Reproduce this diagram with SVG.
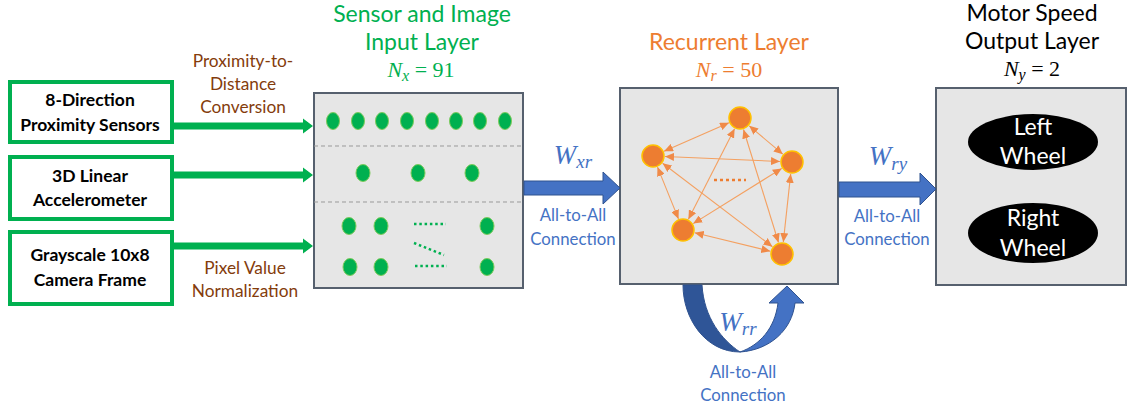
<svg xmlns="http://www.w3.org/2000/svg" width="1127" height="409" viewBox="0 0 1127 409">
<defs>
<style>
.src{fill:#fff;stroke:#00B050;stroke-width:4}
.srct{font-family:Lato,"Liberation Sans",sans-serif;font-weight:bold;font-size:17.5px;fill:#000;text-anchor:middle}
.brown{font-family:Lato,"Liberation Sans",sans-serif;font-size:17.3px;fill:#843C0C;text-anchor:middle}
.blue{font-family:Lato,"Liberation Sans",sans-serif;font-size:16.8px;fill:#4472C4;text-anchor:middle}
.title{font-family:Lato,"Liberation Sans",sans-serif;font-size:23px;text-anchor:middle}
.math{font-family:"Liberation Serif",serif;font-size:22px;text-anchor:middle}
.layer{fill:#E6E6E6;stroke:#56606E;stroke-width:2}
.garr{fill:#00B050}
.barr{fill:#4472C4;stroke:#2F528F;stroke-width:1}
.gdot{fill:#00B050;stroke:#7CCB5B;stroke-width:1}
.rn{fill:#ED7D31;stroke:#FFC000;stroke-width:1.5}
.edge{stroke:#F4A060;stroke-width:1.1;fill:none;marker-start:url(#ah);marker-end:url(#ah)}
.wheel{fill:#000}
.wt{font-family:Lato,"Liberation Sans",sans-serif;font-size:23px;fill:#fff;text-anchor:middle}
.wl{font-family:"Liberation Serif",serif;font-style:italic;fill:#4472C4;text-anchor:middle}
</style>
<marker id="ah" markerUnits="userSpaceOnUse" markerWidth="9" markerHeight="8" refX="9" refY="4" orient="auto-start-reverse">
<path d="M0,0 L9,4 L0,8 z" fill="#F08A48"/>
</marker>
</defs>
<rect width="1127" height="409" fill="#fff"/>

<g id="src-proximity">
<rect class="src" x="10" y="82" width="162" height="60"/>
<text class="srct" x="90" y="106">8-Direction</text>
<text class="srct" x="90" y="131">Proximity Sensors</text>
</g>
<g id="src-accel">
<rect class="src" x="10" y="157" width="162" height="62"/>
<text class="srct" x="90" y="182">3D Linear</text>
<text class="srct" x="90" y="206">Accelerometer</text>
</g>
<g id="src-camera">
<rect class="src" x="10" y="232" width="162" height="72"/>
<text class="srct" x="90" y="261">Grayscale 10x8</text>
<text class="srct" x="90" y="286">Camera Frame</text>
</g>

<g id="input-layer">
<text class="title" fill="#00B050" x="422" y="22">Sensor and Image</text>
<text class="title" fill="#00B050" x="422" y="50">Input Layer</text>
<text class="math" fill="#00B050" x="421" y="77"><tspan font-style="italic">N</tspan><tspan font-style="italic" font-size="16" dy="4">x</tspan><tspan dy="-4">  =  91</tspan></text>
<rect class="layer" x="314" y="93" width="209" height="195"/>
<line x1="314" y1="146" x2="522" y2="146" stroke="#999" stroke-width="1" stroke-dasharray="4,3"/>
<line x1="314" y1="202" x2="524" y2="202" stroke="#999" stroke-width="1" stroke-dasharray="4,3"/>
<ellipse class="gdot" cx="333" cy="121" rx="6.5" ry="8.5"/>
<ellipse class="gdot" cx="358" cy="121" rx="6.5" ry="8.5"/>
<ellipse class="gdot" cx="382" cy="121" rx="6.5" ry="8.5"/>
<ellipse class="gdot" cx="407" cy="121" rx="6.5" ry="8.5"/>
<ellipse class="gdot" cx="432" cy="121" rx="6.5" ry="8.5"/>
<ellipse class="gdot" cx="456" cy="121" rx="6.5" ry="8.5"/>
<ellipse class="gdot" cx="480" cy="121" rx="6.5" ry="8.5"/>
<ellipse class="gdot" cx="505" cy="121" rx="6.5" ry="8.5"/>
<ellipse class="gdot" cx="363" cy="173" rx="7" ry="8.5"/>
<ellipse class="gdot" cx="418" cy="173" rx="7" ry="8.5"/>
<ellipse class="gdot" cx="472" cy="173" rx="7" ry="8.5"/>
<ellipse class="gdot" cx="349" cy="226" rx="7" ry="8.5"/>
<ellipse class="gdot" cx="381" cy="226" rx="7" ry="8.5"/>
<ellipse class="gdot" cx="487" cy="226" rx="7" ry="8.5"/>
<ellipse class="gdot" cx="350" cy="267" rx="7" ry="8.5"/>
<ellipse class="gdot" cx="381" cy="267" rx="7" ry="8.5"/>
<ellipse class="gdot" cx="487" cy="267" rx="7" ry="8.5"/>
<g stroke="#00B050" stroke-width="2.5" stroke-dasharray="2.5,2.8" fill="none">
<line x1="414" y1="224" x2="446" y2="224"/>
<line x1="414" y1="243" x2="444" y2="255"/>
<line x1="415" y1="266" x2="447" y2="266"/>
</g>
</g>

<g id="recurrent-layer">
<text class="title" fill="#ED7D31" x="729" y="50">Recurrent Layer</text>
<text class="math" fill="#ED7D31" x="729" y="77"><tspan font-style="italic">N</tspan><tspan font-style="italic" font-size="16" dy="4">r</tspan><tspan dy="-4">  =  50</tspan></text>
<rect class="layer" x="620" y="88" width="218" height="196"/>
<line class="edge" x1="729.0" y1="122.8" x2="664.0" y2="151.2"/>
<line class="edge" x1="749.2" y1="125.8" x2="782.8" y2="154.2"/>
<line class="edge" x1="734.6" y1="128.7" x2="688.4" y2="219.3"/>
<line class="edge" x1="743.5" y1="129.5" x2="778.5" y2="242.5"/>
<line class="edge" x1="665.0" y1="156.5" x2="780.0" y2="161.5"/>
<line class="edge" x1="657.5" y1="167.1" x2="678.5" y2="218.9"/>
<line class="edge" x1="662.6" y1="163.3" x2="772.4" y2="246.7"/>
<line class="edge" x1="781.8" y1="168.4" x2="693.2" y2="223.6"/>
<line class="edge" x1="790.7" y1="173.9" x2="783.3" y2="242.1"/>
<line class="edge" x1="694.7" y1="232.8" x2="770.3" y2="251.2"/>
<circle class="rn" cx="740" cy="118" r="11"/>
<circle class="rn" cx="653" cy="156" r="11"/>
<circle class="rn" cx="792" cy="162" r="11"/>
<circle class="rn" cx="683" cy="230" r="11"/>
<circle class="rn" cx="782" cy="254" r="11"/>
<line x1="714" y1="180" x2="746" y2="180" stroke="#ED7D31" stroke-width="2.5" stroke-dasharray="3,3"/>
</g>

<g id="output-layer">
<text class="title" fill="#000" x="1032" y="21">Motor Speed</text>
<text class="title" fill="#000" x="1032" y="49">Output Layer</text>
<text class="math" fill="#000" x="1032" y="76"><tspan font-style="italic">N</tspan><tspan font-style="italic" font-size="16" dy="4">y</tspan><tspan dy="-4">  =  2</tspan></text>
<rect class="layer" x="936" y="88" width="190" height="197"/>
<ellipse class="wheel" cx="1033" cy="142" rx="65" ry="28"/>
<text class="wt" x="1033" y="135">Left</text>
<text class="wt" x="1033" y="164">Wheel</text>
<ellipse class="wheel" cx="1033" cy="233" rx="65" ry="30"/>
<text class="wt" x="1033" y="226">Right</text>
<text class="wt" x="1033" y="256">Wheel</text>
</g>

<g id="connectors">
<path class="garr" d="M172,122.5 H303 V118.5 L313,126 L303,133.5 V129.5 H172 Z"/>
<path class="garr" d="M172,171.5 H303 V167.5 L313,175 L303,182.5 V178.5 H172 Z"/>
<path class="garr" d="M172,242.5 H303 V238.5 L313,246 L303,253.5 V249.5 H172 Z"/>
<text class="brown" x="243" y="67">Proximity-to-</text>
<text class="brown" x="243" y="90">Distance</text>
<text class="brown" x="243" y="113">Conversion</text>
<text class="brown" x="245" y="274">Pixel Value</text>
<text class="brown" x="245" y="297">Normalization</text>

<path class="barr" d="M524,181 H603 V172 L620,188 L603,204 V195 H524 Z"/>
<text class="wl" x="573" y="164"><tspan font-size="27">W</tspan><tspan font-size="19" dy="4">xr</tspan></text>
<text class="blue" x="573" y="221">All-to-All</text>
<text class="blue" x="573" y="245">Connection</text>

<path class="barr" d="M839,182 H920 V173 L936,189 L920,205 V197 H839 Z"/>
<text class="wl" x="888" y="165"><tspan font-size="27">W</tspan><tspan font-size="19" dy="5">ry</tspan></text>
<text class="blue" x="887" y="222">All-to-All</text>
<text class="blue" x="887" y="245">Connection</text>

<path d="M683,285 C683,318 705,352 740,352 C722,340 704,318 702,285 Z" fill="#2F5597" stroke="#2F528F" stroke-width="1"/>
<path d="M740,352 C770,350 792,330 795,303 L804,303 L787,286 L769,303 L778,303 C775,328 760,345 740,352 Z" fill="#4472C4" stroke="#2F528F" stroke-width="1"/>
<text class="wl" x="738" y="331"><tspan font-size="27">W</tspan><tspan font-size="19" dy="4">rr</tspan></text>
<text class="blue" x="743" y="378">All-to-All</text>
<text class="blue" x="743" y="401">Connection</text>
</g>
</svg>
